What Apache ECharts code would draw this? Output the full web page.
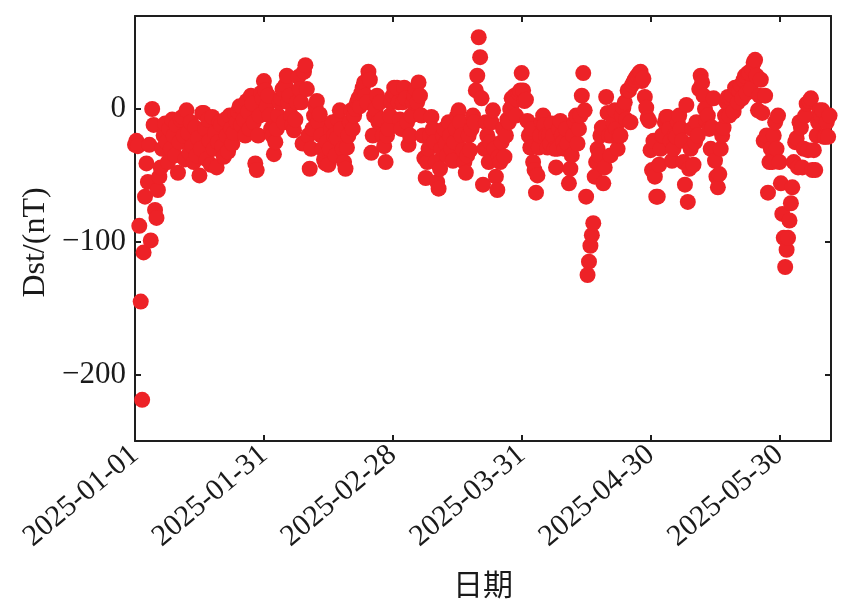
<meta charset="utf-8" />
<script src="https://cdn.jsdelivr.net/npm/echarts@6/dist/echarts.min.js"></script>
<style>
	html, body { margin: 0; padding: 0; background: #fff; }
	#dstChart { width: 854px; height: 608px; }
</style>
<div id="dstChart"></div>
<script type="text/javascript">
// Dst 指数，每天 3 个采样点（8 小时间隔）
var samplesPerDay = 3;

// 第 0-29 天
var dstPart1 = [
	-27, -24, -28,  -88, -145, -219,  -108, -66, -41,  -55, -27, -99,  0, -12, -76,
	-82, -61, -51,  -44, -30, -20,  -11, -25, -40,  -15, -30, -8,  -20, -35, -12,
	-48, -25, -8,  -6, -20, -38,  -1, -18, -33,  -10, -28, -40,  -14, -35, -22,
	-50, -30, -3,  -3, -15, -38,  -8, -24, -42,  -6, -30, -18,  -44, -25, -10,
	-12, -28, -36,  -8, -20, -32,  -5, -15, -26,  -18, -4, -10,  -2, 2, -12,
	1, -8, -20,  6, -2, -15,  10, 4, -10,  -41, -46, -20,  -5, 12, 8
];
// 第 30-59 天
var dstPart2 = [
	21, 14, 2,  10, -5, -15,  -20, -34, -25,  -15, -5, 5,  8, 15, -10,
	18, 25, 5,  10, -5, -12,  -16, -8, 5,  24, 15, 5,  -26, 28, 33,
	15, -20, -45,  -30, -15, -5,  2, 6, -10,  -4, -20, -30,  -38, -41, -25,
	-42, -30, -15,  -10, -20, -35,  -22, -8, -1,  -15, -30, -40,  -45, -29, -20,
	-10, -1, -15,  -5, 0, 5,  8, 2, 12,  16, 20, 10,  5, 28, 22,
	-33, -20, -5,  0, 10, -10,  5, -8, -20,  -28, -40, -20,  -15, -5, 5
];
// 第 60-89 天
var dstPart3 = [
	10, 16, 12,  16, 5, -8,  -15, 5, 16,  8, -10, -27,  -20, -5, 5,
	10, 15, 5,  20, 10, -5,  -20, -37, -52,  -40, -30, -20,  -6, -15, -25,
	-40, -55, -60,  -45, -30, -20,  -15, -26, -35,  -10, -20, -30,  -39, -25, -15,
	-5, -1, -10,  -20, -31, -40,  -48, -35, -20,  -31, -15, -5,  -10, 14, 25,
	54, 39, 8,  -57, -30, -10,  -20, -40, -25,  -10, -1, -30,  -51, -61, -36,
	-40, -25, -15,  -36, -20, -8,  -10, 0, 8,  5, 10, -5,  7, 12, 14
];
// 第 90-119 天
var dstPart4 = [
	27, 14, 6,  7, -9, -20,  -29, -15, -40,  -46, -63, -50,  -29, -20, -10,
	-5, -12, -20,  -29, -20, -26,  -11, -20, -30,  -44, -30, -15,  -9, -20, -25,
	-30, -15, -26,  -56, -45, -35,  -20, -10, -5,  -26, -15, -5,  10, 27, -1,
	-66, -125, -115,  -103, -95, -86,  -51, -40, -30,  -35, -20, -14,  -56, -44, 9,
	-3, -20, -35,  -20, -10, -1,  -15, -30, -20,  -20, -5, 1,  5, -8, 14,
	14, -10, 18,  20, 22, 24,  25, 27, 28,  21, 23, 9,  1, -7, -9
];
// 第 120-149 天
var dstPart5 = [
	-31, -46, -24,  -51, -66, -66,  -42, -30, -20,  -20, -10, -6,  -6, -15, -24,
	-39, -30, -20,  -21, -10, -5,  -15, -24, -40,  -57, 3, -70,  -45, -30, -15,
	-42, -25, -10,  -20, 15, 25,  20, 10, 0,  -9, -5, -15,  -30, -14, 8,
	-39, -51, -59,  -49, -30, -20,  -14, -5, 5,  9, -5, 8,  10, -2, 16,
	16, 5, 14,  18, 8, 22,  25, 12, 27,  27, 15, 30,  35, 37, 25,
	-1, 10, 22,  -3, -24, 10,  -20, -63, -40,  -30, -40, -20,  -10, -30, -5
];
// 第 150-161 天
var dstPart6 = [
	-40, -56, -79,  -97, -119, -106,  -97, -84, -71,  -59, -40, -25,  -22, -44, -10,
	-14, -44, -30,  -5, 4, -31,  6, 8, -46,  -31, -46, -20,  -10, -1, -5,
	-1, -21, -21,  -10, -21, -5
];

// 坐标轴刻度
var xTickDays = [0, 30, 60, 90, 120, 150];
var xTickLabels = ['2025-01-01', '2025-01-31', '2025-02-28', '2025-03-31', '2025-04-30', '2025-05-30'];
var yTickValues = [-200, -100, 0];

var dstAll = [].concat(dstPart1, dstPart2, dstPart3, dstPart4, dstPart5, dstPart6);
var dstPoints = dstAll.map(function (v, i) { return [i / samplesPerDay, v]; });

var serifFont = '"Liberation Serif", "Times New Roman", serif';
var lineStyle = { color: '#1e1e1e', width: 2 };

function boxAxis(pos, isX) {
	var vals = isX ? xTickDays : yTickValues;
	return {
		type: 'value',
		position: pos,
		min: isX ? 0 : -250,
		max: isX ? 162 : 70,
		axisLine: { show: true, onZero: false, lineStyle: lineStyle },
		axisTick: { show: true, inside: true, length: 6, customValues: vals, lineStyle: lineStyle },
		axisLabel: { show: false },
		splitLine: { show: false }
	};
}

var myChart = echarts.init(document.getElementById('dstChart'), null, { renderer: 'canvas' });

var xBottom = boxAxis('bottom', true);
xBottom.axisLabel = {
	show: true,
	customValues: xTickDays,
	rotate: 40,
	margin: 10,
	fontFamily: serifFont,
	fontSize: 30,
	color: '#1a1a1a',
	formatter: function (v) { return xTickLabels[xTickDays.indexOf(v)] || ''; }
};
xBottom.name = '日期';
xBottom.nameLocation = 'middle';
xBottom.nameGap = 128;
xBottom.nameTextStyle = { fontFamily: '"Noto Sans CJK SC"', fontSize: 30, color: '#1a1a1a' };

var yLeft = boxAxis('left', false);
yLeft.axisLabel = {
	show: true,
	customValues: yTickValues,
	margin: 9,
	fontFamily: serifFont,
	fontSize: 31,
	color: '#1a1a1a',
	formatter: function (v) { return v < 0 ? '\u2212' + Math.abs(v) : String(v); }
};
yLeft.name = 'Dst/(nT)';
yLeft.nameLocation = 'middle';
yLeft.nameGap = 82;
yLeft.nameTextStyle = { fontFamily: serifFont, fontSize: 32, color: '#1a1a1a', padding: [0, 28, 0, 0] };

var option = {
	animation: false,
	backgroundColor: '#ffffff',
	grid: { left: 135, right: 23, top: 16, bottom: 167, containLabel: false, outerBoundsMode: 'none' },
	xAxis: [xBottom, boxAxis('top', true)],
	yAxis: [yLeft, boxAxis('right', false)],
	series: [
		{
			name: 'Dst',
			type: 'scatter',
			xAxisIndex: 0,
			yAxisIndex: 0,
			symbol: 'circle',
			symbolSize: 16,
			itemStyle: { color: '#ed2227', opacity: 1 },
			data: dstPoints
		}
	]
};
myChart.setOption(option);
</script>
